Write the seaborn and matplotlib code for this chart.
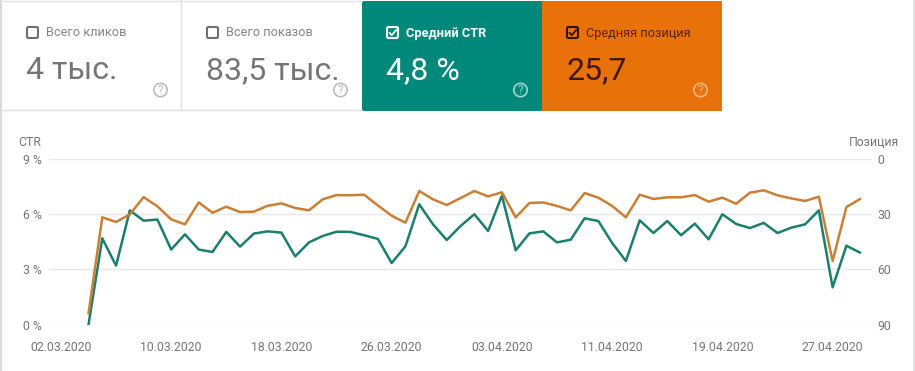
import matplotlib
matplotlib.use("Agg")
import matplotlib.pyplot as plt
from matplotlib.patches import Rectangle, FancyBboxPatch, Circle
from matplotlib.lines import Line2D
import pandas as pd
import seaborn as sns

sns.set_theme(style="white")
plt.rcParams['font.family'] = ['Roboto', 'DejaVu Sans']

start_date = "2020-03-04"
ctr_values = [0, 4.69, 3.21, 6.21, 5.65, 5.71, 4.08, 4.91, 4.08, 3.95, 5.04, 4.24, 4.95, 5.07, 5.0, 3.71,
              4.47, 4.82, 5.05, 5.04, 4.86, 4.66, 3.35, 4.26, 6.54, 5.45, 4.6, 5.36, 6.0, 5.09, 7.01, 4.04,
              4.96, 5.07, 4.47, 4.62, 5.78, 5.63, 4.44, 3.46, 5.67, 4.98, 5.63, 4.86, 5.49, 4.64, 6.0, 5.47,
              5.25, 5.53, 4.98, 5.27, 5.45, 6.21, 2.03, 4.29, 3.91]
position_values = [83.9, 31.7, 34.2, 30.1, 20.7, 25.7, 32.8, 35.5, 23.6, 29.2, 25.9, 28.8, 28.6, 25.4, 24.1, 26.6,
                   27.9, 21.9, 19.6, 19.7, 19.4, 25.2, 30.8, 34.6, 17.4, 21.9, 25.0, 21.2, 17.4, 20.3, 18.1, 31.7,
                   23.9, 23.6, 25.5, 27.9, 18.5, 21.0, 25.5, 31.7, 19.4, 21.7, 20.8, 20.8, 19.6, 23.2, 21.0, 24.3,
                   18.3, 17.0, 19.7, 21.4, 22.8, 20.5, 55.4, 26.1, 21.7]
x_tick_labels = ["02.03.2020", "10.03.2020", "18.03.2020", "26.03.2020", "03.04.2020", "11.04.2020", "19.04.2020", "27.04.2020"]
ctr_ticks = [0, 3, 6, 9]
ctr_tick_labels = ["0 %", "3 %", "6 %", "9 %"]
pos_ticks = [0, 30, 60, 90]
card_titles = ["Всего кликов", "Всего показов", "Средний CTR", "Средняя позиция"]
card_values = ["4 тыс.", "83,5 тыс.", "4,8 %", "25,7"]

W, H = 915, 371
TEAL, ORANGE = "#00897B", "#E8710A"
LINE_TEAL, LINE_ORANGE = "#1B7F6F", "#CB7F35"
GRID, GREY = "#E8E8E8", "#757575"

df = pd.DataFrame({
    "date": pd.date_range(start_date, periods=len(ctr_values)),
    "ctr": ctr_values,
    "pos": position_values,
})
tick_dates = pd.to_datetime(x_tick_labels, format="%d.%m.%Y")

fig = plt.figure(figsize=(W / 100, H / 100), dpi=100, facecolor="white")
L, R, T, B = 49, 872, 159, 324.7
ax = fig.add_axes([L / W, 1 - B / H, (R - L) / W, (B - T) / H])
ax2 = ax.twinx()

sns.lineplot(data=df, x="date", y="ctr", ax=ax, color=LINE_TEAL, lw=1.8, zorder=4)
sns.lineplot(data=df, x="date", y="pos", ax=ax2, color=LINE_ORANGE, lw=1.8, zorder=3)

day = pd.Timedelta(days=1)
ax.set_xlim(df["date"].iloc[0] - day * ((88.5 - L) / 13.78), df["date"].iloc[0] + day * ((R - 88.5) / 13.78))
ax.set_ylim(0, 9)
ax2.set_ylim(90, 0)
ax.set_yticks(ctr_ticks, ctr_tick_labels)
ax2.set_yticks(pos_ticks, [str(v) for v in pos_ticks])
ax.set_xticks(tick_dates, x_tick_labels)
ax.set_xlabel("")
ax.set_ylabel("")
ax2.set_ylabel("")
ax.grid(axis="y", color=GRID, lw=1)
ax.set_axisbelow(True)
ax2.grid(False)
for a in (ax, ax2):
    a.patch.set_alpha(0)
    for s in a.spines.values():
        s.set_visible(False)
    for lab in a.get_xticklabels() + a.get_yticklabels():
        lab.set_color(GREY)
        lab.set_fontsize(8.8)
ax.tick_params(axis="y", length=0, pad=5)
ax2.tick_params(axis="y", length=0, pad=4)
ax.tick_params(axis="x", length=0, pad=11.5)

over = fig.add_axes([0, 0, 1, 1], zorder=10)
over.set_xlim(0, W)
over.set_ylim(H, 0)
over.axis("off")
over.patch.set_alpha(0)

over.add_line(Line2D([1, 1], [0, H], color="#DADADA", lw=1.5))
over.add_line(Line2D([914, 914], [0, H], color="#E2E2E2", lw=1.5))
over.add_line(Line2D([0, 362], [0.5, 0.5], color="#E2E2E2", lw=1))
over.add_line(Line2D([1, 362], [110, 110], color="#E0E0E0", lw=1))
over.add_line(Line2D([181, 181], [0, 110], color="#E0E0E0", lw=1))
over.add_patch(Rectangle((362, 1), 180, 109.5, color=TEAL, lw=0))
over.add_patch(Rectangle((542, 1), 180, 109.5, color=ORANGE, lw=0))

cards = [
    (26, "#858585", "#757575", "#707070", "#BDBDBD", False, "normal"),
    (206, "#858585", "#757575", "#707070", "#BDBDBD", False, "normal"),
    (386, "#F4FBFA", "#FFFFFF", "#FFFFFF", "#9FD5CE", True, "bold"),
    (566, "#5A2503", "#3E1A02", "#2E1302", "#F5B67F", True, "normal"),
]
q_x = [160.5, 340.5, 520.5, 700.5]
for (x0, title_c, val_c, box_c, q_c, checked, weight), title, value, qx in zip(cards, card_titles, card_values, q_x):
    over.add_patch(FancyBboxPatch((x0 + 1, 27), 11, 11, boxstyle="round,pad=0,rounding_size=1.5",
                                  fc="none", ec=box_c, lw=1.5))
    if checked:
        over.add_line(Line2D([x0 + 3.5, x0 + 5.8, x0 + 10.2], [32.8, 35.2, 30], color=box_c, lw=1.3))
    over.text(x0 + 20, 33, title, color=title_c, fontsize=9.2, weight=weight, va="center", ha="left")
    over.text(x0, 79, value, color=val_c, fontsize=23, va="baseline", ha="left")
    over.add_patch(Circle((qx, 90), 6.7, fc="none", ec=q_c, lw=1.2))
    over.text(qx, 90.2, "?", color=q_c, fontsize=8.5, va="center", ha="center")

over.text(18, 142, "CTR", color=GREY, fontsize=8.8, va="center", ha="left")
over.text(849, 142, "Позиция", color=GREY, fontsize=8.8, va="center", ha="left")

fig.savefig("out.png", dpi=100, facecolor="white")
